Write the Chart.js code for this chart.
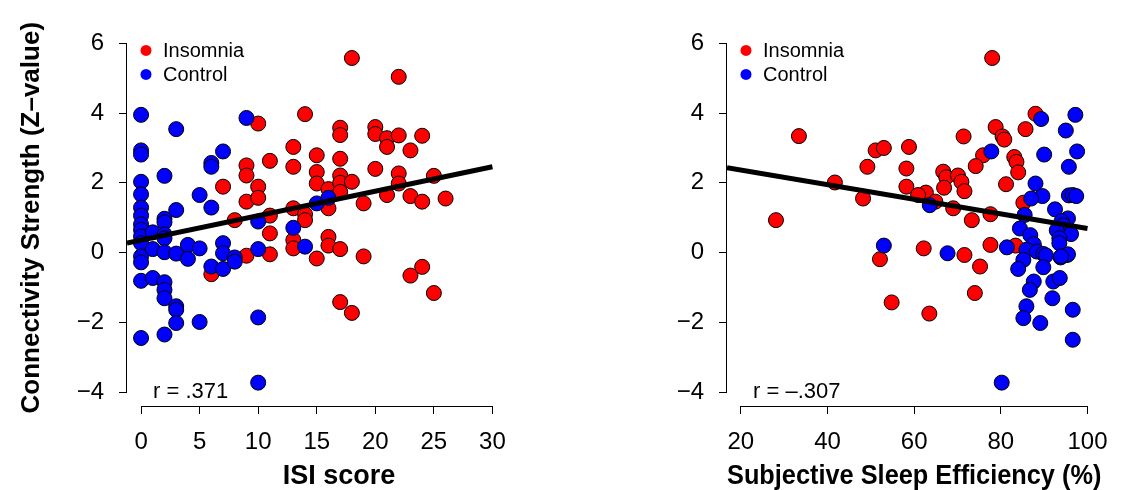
<!DOCTYPE html>
<html>
<head>
<meta charset="utf-8">
<script src="https://cdn.jsdelivr.net/npm/chart.js@4.4.0/dist/chart.umd.min.js"></script>
<style>
  html, body { margin: 0; padding: 0; background: #fff; }
  #wrap { position: relative; width: 1122px; height: 490px; }
  canvas { position: absolute; top: 0; }
  #isiChart { left: 0; }
  #sseChart { left: 561px; }
</style>
</head>
<body>
<div id="wrap">
  <canvas id="isiChart" width="561" height="490"></canvas>
  <canvas id="sseChart" width="561" height="490"></canvas>
</div>
<script>
// values: connectivity strength (Z) against ISI score / sleep efficiency
const isiControlX = [0,0,0,0,0,0,0,0,0,0,0,0,0,0,0, 1,1,1, 2,2,2,2,2,2,2,2,2,2, 3,3,3,3,3,3, 4,4, 5,5,5, 6,6,6,6, 7,7,7,7, 8,8, 9, 10,10,10,10, 13, 14, 15, 16];
const isiControlY = [3.95,2.93,2.81,2.03,1.67,1.29,1.06,0.81,0.65,0.46,0.27,-0.11,-0.28,-0.81,-2.45,
  0.58,0.10,-0.73, 2.20,0.97,0.87,0.52,0.41,0.01,-0.85,-1.07,-1.31,-2.35,
  3.54,1.22,-0.03,-1.54,-1.64,-2.02, 0.22,-0.18, 1.65,0.12,-1.99, 2.57,2.46,1.29,-0.40,
  2.90,0.27,-0.02,-0.47, -0.14,-0.26, 3.86, 0.89,0.10,-1.86,-3.73, 0.71, 0.17, 1.41, 1.57];

const isiInsomniaX = [6, 7, 8, 9,9,9,9, 10,10,10, 11,11,11,11, 13,13,13,13,13, 14,14,14, 15,15,15,15,
  16,16,16,16, 17,17,17,17,17,17,17,17, 18,18,18, 19,19, 20,20,20, 21,21,21, 22,22,22,22,
  23,23,23, 24,24,24, 25,25, 26];
const isiInsomniaY = [-0.62, 1.89, 0.93, 2.50,2.21,1.46,-0.09, 3.70,1.89,1.57, 2.63,1.06,0.55,-0.05,
  3.03,2.46,1.27,0.36,0.12, 3.97,1.10,0.93, 2.79,2.31,1.98,-0.17, 1.82,1.27,0.45,0.20,
  3.58,3.37,2.69,2.21,2.00,1.74,0.10,-1.42, 5.58,2.03,-1.73, 1.41,-0.11, 3.60,3.40,2.40,
  3.28,3.03,1.65, 5.04,3.36,2.27,1.98, 2.93,1.62,-0.66, 3.35,1.46,-0.41, 2.20,-1.16, 1.55];

const sseControlX = [89.3,97.2,95.0,77.8,90.0,97.6,95.7,88.0,89.6,87.0,95.7,96.6,97.4,92.5,85.5,95.5,94.0,
  63.6,94.4,92.9,96.2,84.4,86.8,87.6,93.5,93.5,81.4,85.9,88.3,89.8,90.4,93.8,95.3,85.2,84.0,89.8,
  92.1,93.6,87.6,86.7,91.9,85.9,85.2,89.1,96.6,96.6,53.0,67.7,80.2,95.5,93.9];
const sseControlY = [3.83,3.95,3.50,2.90,2.81,2.90,2.46,1.98,1.62,1.55,1.64,1.65,1.62,1.24,1.08,0.98,0.90,
  1.36,0.78,0.64,0.53,0.69,0.50,0.24,0.41,0.27,0.15,0.08,0.03,-0.04,-0.08,-0.14,-0.07,-0.21,-0.47,-0.42,
  -0.83,-0.73,-0.83,-1.07,-1.31,-1.54,-1.88,-2.02,-1.64,-2.50,0.20,-0.02,-3.73,-0.05,-0.11];

const sseInsomniaX = [33.4,41.7,48.2,28.1,49.2,51.1,53.0,58.8,58.2,58.2,88.0,71.4,78.8,80.4,80.8,85.7,
  75.9,74.2,83.1,83.6,84.0,66.7,67.4,70.1,70.9,71.6,66.9,78.0,81.2,85.2,73.3,77.6,69.0,62.7,60.9,
  64.9,83.4,88.2,52.1,62.2,71.6,77.6,75.2,74.0,54.8,63.5];
const sseInsomniaY = [3.34,2.01,1.55,0.93,2.46,2.93,3.00,3.03,2.41,1.89,3.98,3.33,3.60,3.33,3.24,3.54,
  2.79,2.48,2.74,2.60,2.30,2.32,2.16,2.21,2.03,1.76,1.86,5.58,1.96,1.43,0.93,1.10,1.27,1.72,1.65,
  1.46,0.20,0.05,-0.19,0.12,-0.07,0.22,-0.40,-1.16,-1.43,-1.75];

// fitted regression lines (end points)
const isiFitX = [-1.2, 30];
const isiFitY = [0.27, 2.46];
const sseFitX = [16.8, 100];
const sseFitY = [2.43, 0.69];

const yTicks = [-4, -2, 0, 2, 4, 6];
const isiTicks = [0, 5, 10, 15, 20, 25, 30];
const sseTicks = [20, 40, 60, 80, 100];

const FONT = "'Liberation Sans', Arial, Helvetica, sans-serif";
const RED = '#ff0000';
const BLUE = '#0000ff';

const toPoints = (xs, ys) => xs.map((x, i) => ({ x: x, y: ys[i] }));
const minus = v => v < 0 ? '\u2212' + Math.abs(v) : String(v);

// R-like axes (line only between first and last tick), legend and r label
const rStyle = {
  id: 'rStyle',
  afterDraw(chart, args, o) {
    const ctx = chart.ctx;
    const xs = chart.scales.x, ys = chart.scales.y;
    const area = chart.chartArea;
    ctx.save();
    ctx.strokeStyle = '#000';
    ctx.lineWidth = 1;
    ctx.beginPath();
    ctx.moveTo(xs.getPixelForValue(o.xTicks[0]), area.bottom + 0.5);
    ctx.lineTo(xs.getPixelForValue(o.xTicks[o.xTicks.length - 1]), area.bottom + 0.5);
    ctx.moveTo(area.left - 0.5, ys.getPixelForValue(yTicks[0]));
    ctx.lineTo(area.left - 0.5, ys.getPixelForValue(yTicks[yTicks.length - 1]));
    ctx.stroke();

    // legend
    const items = chart.data.datasets.filter(d => d.label).sort((a, b) => a.legendPos - b.legendPos);
    ctx.font = '20px ' + FONT;
    ctx.textBaseline = 'alphabetic';
    ctx.textAlign = 'left';
    items.forEach((d, i) => {
      const cy = area.top + 21 + i * 24;
      ctx.fillStyle = d.backgroundColor;
      ctx.beginPath();
      ctx.arc(area.left + 19, cy, 5.5, 0, Math.PI * 2);
      ctx.fill();
      ctx.fillStyle = '#000';
      ctx.fillText(d.label, area.left + 36, cy + 7);
    });

    ctx.font = '22px ' + FONT;
    ctx.fillText(o.rText, area.left + 26, area.bottom - 8);
    ctx.restore();
  }
};

function makeChart(id, cfg) {
  return new Chart(document.getElementById(id), {
    type: 'scatter',
    data: {
      datasets: [
        {
          data: toPoints(cfg.fitX, cfg.fitY),
          showLine: true,
          borderColor: '#000',
          borderWidth: 5,
          pointRadius: 0,
          order: 0
        },
        {
          label: 'Control',
          legendPos: 1,
          data: cfg.control,
          backgroundColor: BLUE,
          borderColor: '#000',
          borderWidth: 1,
          pointRadius: 7.5,
          order: 1
        },
        {
          label: 'Insomnia',
          legendPos: 0,
          data: cfg.insomnia,
          backgroundColor: RED,
          borderColor: '#000',
          borderWidth: 1,
          pointRadius: 7.5,
          order: 2
        }
      ]
    },
    options: {
      responsive: false,
      animation: false,
      events: [],
      layout: { padding: { left: 0, right: cfg.padRight, top: 28, bottom: 0 } },
      plugins: {
        legend: { display: false },
        tooltip: { enabled: false },
        rStyle: { xTicks: cfg.xTicks, rText: cfg.rText }
      },
      scales: {
        x: {
          type: 'linear',
          min: cfg.xMin,
          max: cfg.xMax,
          afterBuildTicks: s => { s.ticks = cfg.xTicks.map(v => ({ value: v })); },
          afterFit: s => { s.height = 84; },
          border: { display: false },
          grid: { drawOnChartArea: false, drawTicks: true, tickLength: 8, color: '#000', lineWidth: 1 },
          ticks: { color: '#000', font: { family: FONT, size: 24 }, padding: 14, maxRotation: 0, autoSkip: false },
          title: {
            display: true,
            text: cfg.xTitle,
            color: '#000',
            font: { family: FONT, size: 27, weight: 'bold', lineHeight: 1 },
            padding: { top: 0, bottom: 0 }
          }
        },
        y: {
          type: 'linear',
          min: -4.4,
          max: 6.4,
          afterBuildTicks: s => { s.ticks = yTicks.map(v => ({ value: v })); },
          afterFit: s => { s.width = cfg.yWidth; },
          border: { display: false },
          grid: { drawOnChartArea: false, drawTicks: true, tickLength: 8, color: '#000', lineWidth: 1 },
          ticks: { color: '#000', font: { family: FONT, size: 24 }, padding: 15, callback: minus },
          title: {
            display: cfg.yTitle !== '',
            text: cfg.yTitle,
            color: '#000',
            font: { family: FONT, size: 26, weight: 'bold', lineHeight: 1 },
            padding: { top: 19, bottom: 0 }
          }
        }
      }
    },
    plugins: [rStyle]
  });
}

makeChart('isiChart', {
  control: toPoints(isiControlX, isiControlY),
  insomnia: toPoints(isiInsomniaX, isiInsomniaY),
  fitX: isiFitX, fitY: isiFitY,
  xMin: -1.2, xMax: 35, xTicks: isiTicks,
  xTitle: 'ISI score',
  yTitle: 'Connectivity Strength (Z\u2013value)',
  yWidth: 127, padRight: 10,
  rText: 'r = .371'
});

makeChart('sseChart', {
  control: toPoints(sseControlX, sseControlY),
  insomnia: toPoints(sseInsomniaX, sseInsomniaY),
  fitX: sseFitX, fitY: sseFitY,
  xMin: 16.8, xMax: 103.2, xTicks: sseTicks,
  xTitle: 'Subjective Sleep Efficiency (%)',
  yTitle: '',
  yWidth: 166, padRight: 13,
  rText: 'r = \u2013.307'
});
</script>
</body>
</html>
